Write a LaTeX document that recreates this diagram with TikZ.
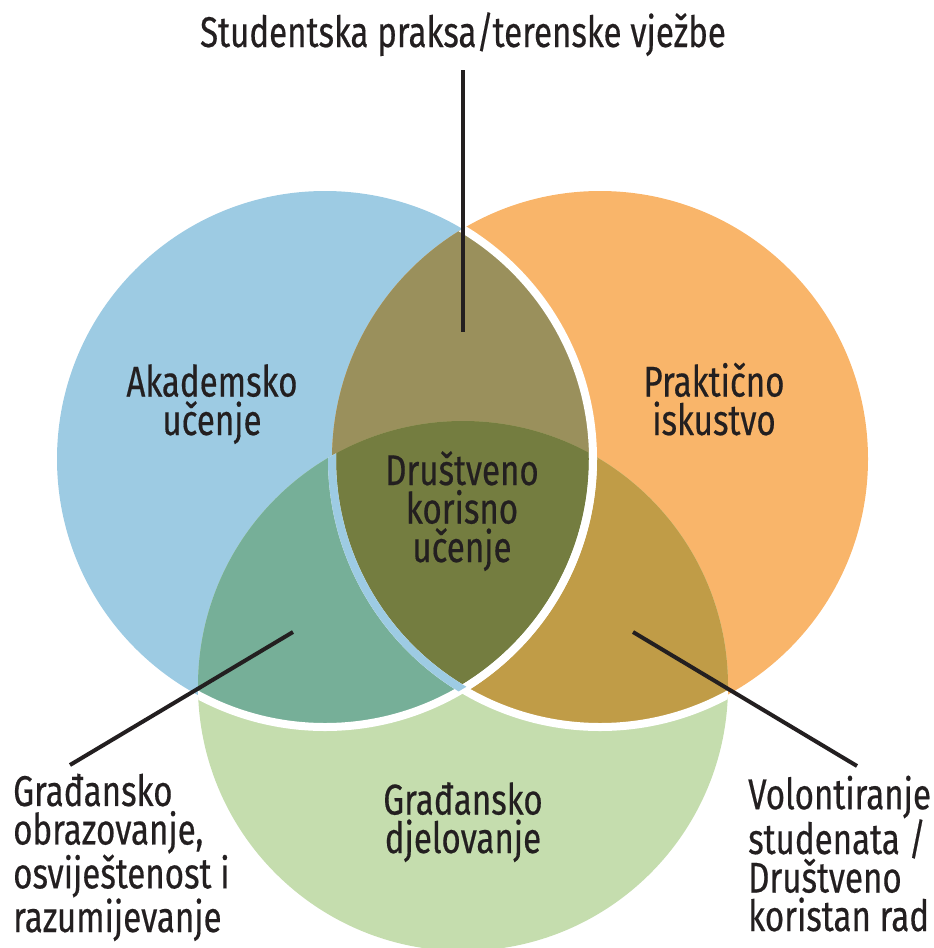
\documentclass[tikz,border=0pt]{standalone}
\usepackage{fontspec}
\setmainfont{Fira Sans}[FakeStretch=0.77,FakeBold=0.4]
\definecolor{cblue}{HTML}{9DCBE3}
\definecolor{corange}{HTML}{F9B56A}
\definecolor{cgreen}{HTML}{C5DDAE}
\definecolor{colive}{HTML}{9A905C}
\definecolor{cteal}{HTML}{76AF98}
\definecolor{cgold}{HTML}{C09C47}
\definecolor{cdark}{HTML}{747D40}
\definecolor{ink}{HTML}{231F20}
\begin{document}
\begin{tikzpicture}[x=1pt,y=-1pt,
  lbl/.style={inner sep=0pt,text=ink,font=\fontsize{43}{38.5}\selectfont},
  conn/.style={draw=ink,line width=4pt},
  sep/.style={line width=8pt}]
\useasboundingbox (0,0) rectangle (934,948);
\coordinate (B) at (325,459);
\coordinate (O) at (600,459);
\coordinate (G) at (463,686);
\def\rb{268pt}\def\ro{268pt}\def\rg{265pt}
% base circles
\fill[cblue] (B) circle[radius=\rb];
\fill[corange] (O) circle[radius=\ro];
\fill[cgreen] (G) circle[radius=\rg];
% pairwise overlaps
\begin{scope}\clip (B) circle[radius=\rb]; \fill[colive] (O) circle[radius=\ro];\end{scope}
\begin{scope}\clip (B) circle[radius=\rb]; \fill[cteal] (G) circle[radius=\rg];\end{scope}
\begin{scope}\clip (O) circle[radius=\ro]; \fill[cgold] (G) circle[radius=\rg];\end{scope}
\begin{scope}\clip (B) circle[radius=\rb]; \clip (O) circle[radius=\ro]; \fill[cdark] (G) circle[radius=\rg];\end{scope}
% separating strokes
\begin{scope}\clip (O) circle[radius=\ro]; \draw[sep,white] (B) circle[radius=\rb];\end{scope}
\begin{scope}\clip (G) circle[radius=\rg]; \draw[sep,white] (B) circle[radius=\rb];\end{scope}
\begin{scope}\clip (G) circle[radius=\rg]; \draw[sep,white] (O) circle[radius=\ro];\end{scope}
\begin{scope}\clip (G) circle[radius=\rg]; \clip (B) circle[radius=\rb]; \draw[sep,cblue] (O) circle[radius=\ro];\end{scope}
% labels (multi-line nodes: base anchor = baseline of last line)
\node[lbl,anchor=base] (top) at (463,47) {Studentska praksa/terenske vježbe};
\node[lbl,anchor=base,align=center] (aka) at (212,435) {Akademsko\\učenje};
\node[lbl,anchor=base,align=center] (prak) at (714,435) {Praktično\\iskustvo};
\node[lbl,anchor=base,align=center] (dku) at (462,562) {Društveno\\korisno\\učenje};
\node[lbl,anchor=base,align=center] (gdj) at (463,853) {Građansko\\djelovanje};
\node[lbl,anchor=base west,align=left] (gob) at (13,932) {Građansko\\obrazovanje,\\osviještenost i\\razumijevanje};
\node[lbl,anchor=base west,align=left] (vol) at (748,931) {Volontiranje\\studenata /\\Društveno\\koristan rad};
% connectors
\coordinate (tA) at (463,70);
\coordinate (tB) at (463,332);
\coordinate (lA) at (70,765);
\coordinate (lB) at (293,632);
\coordinate (rA) at (857,766);
\coordinate (rB) at (633,632);
\draw[conn] (tA) -- (tB);
\draw[conn] (lA) -- (lB);
\draw[conn] (rA) -- (rB);
\end{tikzpicture}
\end{document}
